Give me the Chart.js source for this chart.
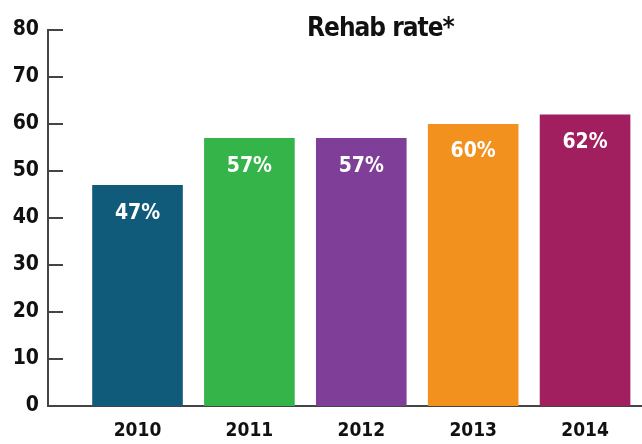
<!DOCTYPE html>
<html>
<head>
<meta charset="utf-8">
<script src="https://cdn.jsdelivr.net/npm/chart.js@4/dist/chart.umd.min.js"></script>
<style>
  body { margin: 0; background: #fff; }
  #wrap { position: relative; width: 642px; height: 444px; }
  #title {
    position: absolute; left: 307px; top: 12px;
    font: bold 26px "DejaVu Sans Condensed", "Liberation Sans", sans-serif;
    letter-spacing: -1px;
    color: #111;
  }
</style>
</head>
<body>
<div id="wrap">
  <canvas id="rehabChart" width="642" height="444"></canvas>
  <div id="title">Rehab rate*</div>
</div>
<script>
const years = ['2010', '2011', '2012', '2013', '2014'];
const rates = [47, 57, 57, 60, 62];
const barColors = ['#105b7a', '#35b44a', '#7f3f98', '#f3911f', '#a11f5e'];
const yTicks = [0, 10, 20, 30, 40, 50, 60, 70, 80];

const FONT = '"DejaVu Sans Condensed", "Liberation Sans", sans-serif';

// short tick marks on the inside of the y axis + value labels in bars
const extras = {
  id: 'extras',
  afterDatasetsDraw(chart) {
    const { ctx, scales: { y } } = chart;
    ctx.save();
    ctx.strokeStyle = '#444';
    ctx.lineWidth = 2;
    yTicks.forEach(v => {
      const py = y.getPixelForValue(v);
      ctx.beginPath();
      ctx.moveTo(chart.chartArea.left, py);
      ctx.lineTo(chart.chartArea.left + 15, py);
      ctx.stroke();
    });
    ctx.fillStyle = '#fff';
    ctx.font = 'bold 21px ' + FONT;
    ctx.textAlign = 'center';
    ctx.textBaseline = 'middle';
    chart.getDatasetMeta(0).data.forEach((bar, i) => {
      ctx.fillText(rates[i] + '%', bar.x, bar.y + 28);
    });
    ctx.restore();
  }
};

new Chart(document.getElementById('rehabChart'), {
  type: 'bar',
  data: {
    datasets: [{
      data: rates.map((v, i) => ({ x: i, y: v })),
      backgroundColor: barColors,
      barPercentage: 0.9,
      categoryPercentage: 0.9
    }]
  },
  options: {
    responsive: false,
    animation: false,
    layout: { padding: { top: 30, right: 1, left: 0, bottom: 0 } },
    plugins: { legend: { display: false }, tooltip: { enabled: false } },
    scales: {
      x: {
        type: 'linear',
        offset: false,
        min: -0.8,
        max: 4.5,
        grid: { display: false, drawTicks: false },
        border: { color: '#444', width: 2 },
        afterBuildTicks: s => { s.ticks = years.map((_, i) => ({ value: i })); },
        afterFit: s => { s.height = 38; },
        ticks: {
          padding: 14,
          color: '#111',
          font: { family: FONT, size: 19, weight: 'bold' },
          callback: v => years[v]
        }
      },
      y: {
        min: 0,
        max: 80,
        grid: { display: false, drawTicks: false },
        border: { color: '#444', width: 2 },
        afterBuildTicks: s => { s.ticks = yTicks.map(v => ({ value: v })); },
        afterFit: s => { s.width = 48; },
        ticks: {
          padding: 9,
          color: '#111',
          font: { family: FONT, size: 21, weight: 'bold' }
        }
      }
    }
  },
  plugins: [extras]
});
</script>
</body>
</html>
